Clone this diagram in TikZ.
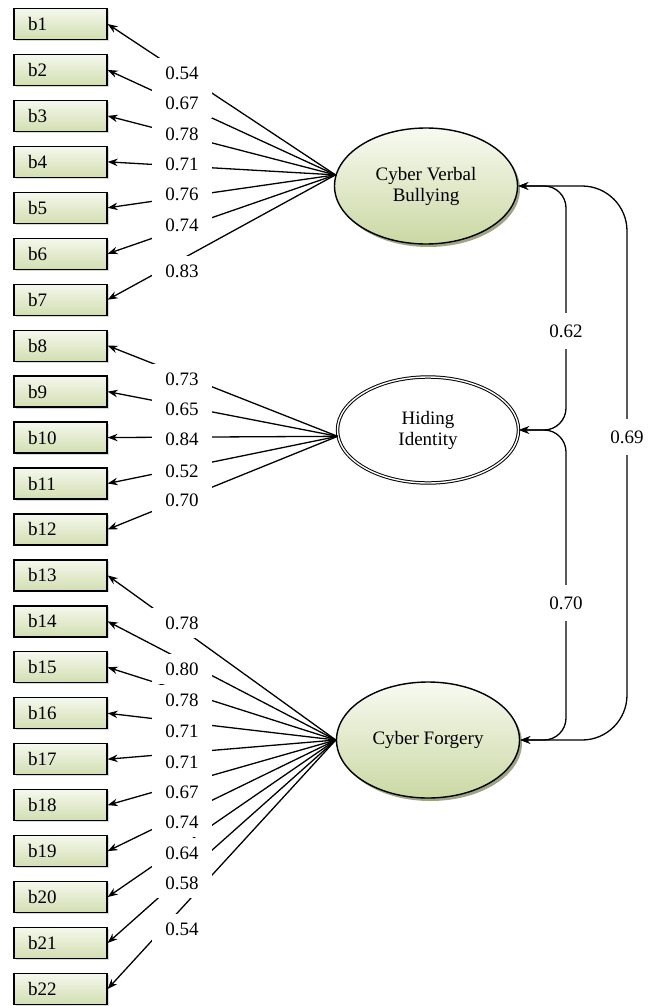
\documentclass[tikz,border=0pt]{standalone}
\usepackage{fontspec}
\setmainfont{Liberation Serif}
\usepackage{xcolor}
\usepackage{tikz}
\usetikzlibrary{arrows.meta,shapes.geometric,shadows}

\definecolor{boxtop}{HTML}{F5F8EC}
\definecolor{boxbot}{HTML}{D2DEB1}
\definecolor{lattop}{HTML}{F8FAF1}
\definecolor{latbot}{HTML}{CAD8A3}
\definecolor{latshade}{HTML}{3F4A14}

\tikzset{
  item/.style = {rectangle,
                 draw,
                 top color = boxtop,
                 bottom color = boxbot,
                 text width = 65pt,
                 inner xsep = 14pt,
                 align = left,
                 minimum height = 31pt,
                 drop shadow = {shadow xshift=1.5pt, shadow yshift=-1.5pt, fill=black!30}},
  latent/.style = {ellipse,
                   draw,
                   line width = 1.4pt,
                   top color = lattop,
                   bottom color = latbot,
                   align = center,
                   minimum width = 183pt,
                   minimum height = 116pt,
                   drop shadow = {shadow xshift=2.5pt, shadow yshift=-3pt, fill=latshade}},
  load/.style = {fill = white, inner sep = 0pt, minimum width = 60pt, minimum height = 30pt},
  corr/.style = {load, minimum width = 40pt, minimum height = 36pt}
}

\begin{document}
\begin{tikzpicture}[x=1pt, y=-1pt, line width=1.3pt,
                    >={Stealth[length=10pt,width=7.5pt]},
                    font=\fontsize{19}{21}\selectfont]

    \useasboundingbox (0,0) rectangle (656,1006);

    % observed items
    \foreach \i in {1,...,22}
        \node[item] (b\i) at (60.5, {24+(\i-1)*45.95}) {b\i};

    % latent factors
    \node[latent] (cvb) at (426,186) {Cyber Verbal\\Bullying};
    \node[ellipse,
          draw,
          fill = white,
          double,
          double distance = 1.4pt,
          line width = 1pt,
          minimum width = 181pt,
          minimum height = 106pt,
          align = center
          ] (hi) at (428,430) {Hiding\\Identity};
    \node[latent] (cf) at (428,740) {Cyber Forgery};

    % loadings
    \foreach \i in {1,...,7}
        \draw[->] (cvb.173) -- (b\i.east);
    \foreach \i in {8,...,12}
        \draw[->] (hi.184) -- (b\i.east);
    \foreach \i in {13,...,22}
        \draw[->] (cf.west) -- (b\i.east);

    \foreach \v/\y in {0.54/73, 0.67/103, 0.78/134, 0.71/164, 0.76/194, 0.74/225, 0.83/271,
                       0.73/379, 0.65/409, 0.84/439, 0.52/471, 0.70/500,
                       0.78/623, 0.80/669, 0.78/700, 0.71/731, 0.71/762,
                       0.67/792, 0.74/822, 0.64/853, 0.58/883, 0.54/929}
        \node[load] at (182,\y) {\v};

    % correlations
    \coordinate (r62) at (566,331);
    \coordinate (r70) at (566,603);
    \coordinate (r69) at (627,437);

    \draw[<->, rounded corners=22pt] (cvb.east) -| (r62) |- (hi.east);
    \draw[<->, rounded corners=22pt] (hi.east) -| (r70) |- (cf.east);
    \draw[<->, rounded corners=45pt] (cvb.east) -| (r69) |- (cf.east);

    \node[corr] at (r62) {0.62};
    \node[corr] at (r70) {0.70};
    \node[corr] at (r69) {0.69};

\end{tikzpicture}
\end{document}
